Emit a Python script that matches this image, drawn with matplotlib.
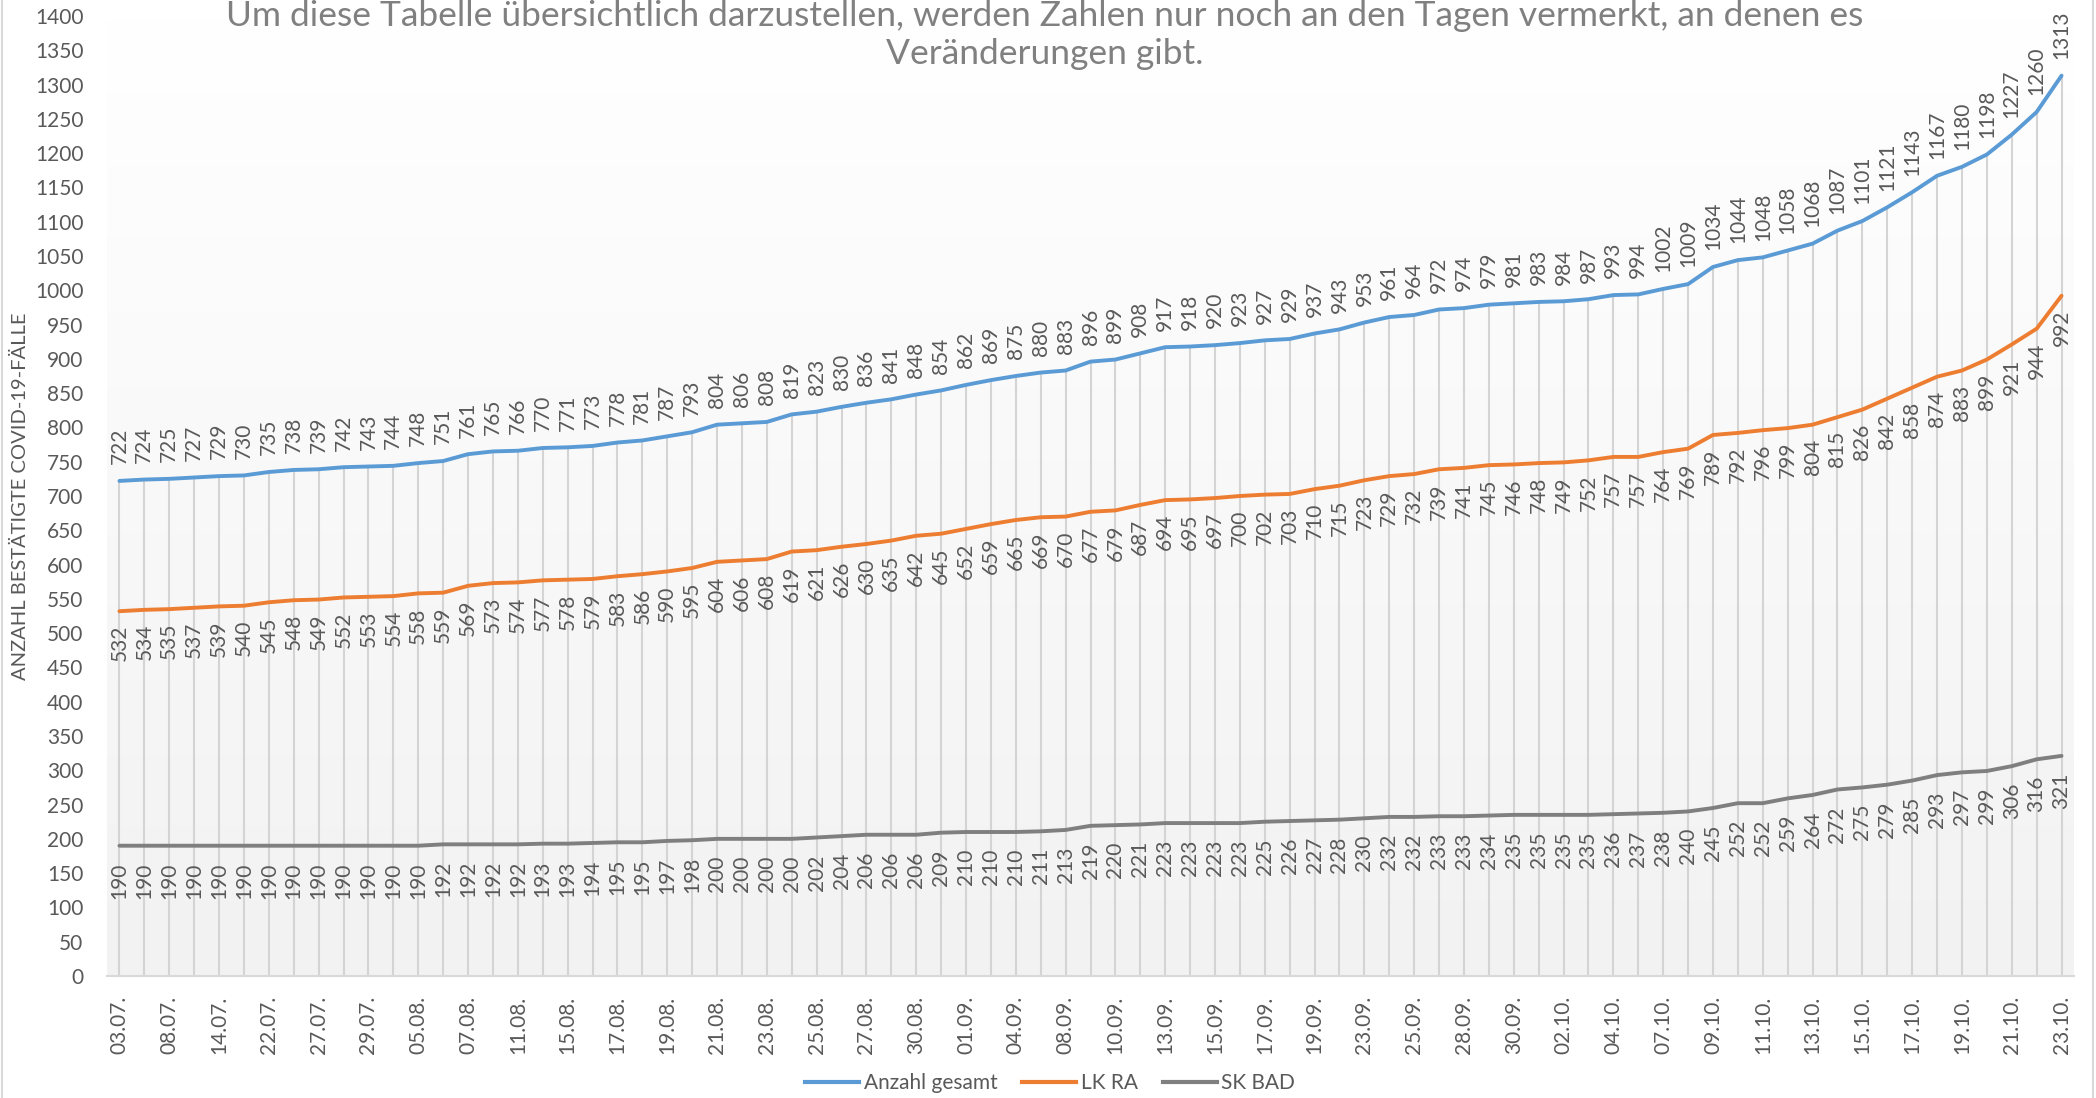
import matplotlib
matplotlib.use("Agg")
import matplotlib.pyplot as plt
import numpy as np
from matplotlib.lines import Line2D

plt.rcParams['font.family'] = ['Lato', 'DejaVu Sans']

gesamt = [722, 724, 725, 727, 729, 730, 735, 738, 739, 742, 743, 744, 748, 751, 761, 765, 766, 770, 771, 773,
          778, 781, 787, 793, 804, 806, 808, 819, 823, 830, 836, 841, 848, 854, 862, 869, 875, 880, 883, 896,
          899, 908, 917, 918, 920, 923, 927, 929, 937, 943, 953, 961, 964, 972, 974, 979, 981, 983, 984, 987,
          993, 994, 1002, 1009, 1034, 1044, 1048, 1058, 1068, 1087, 1101, 1121, 1143, 1167, 1180, 1198, 1227, 1260, 1313]
lk_ra = [532, 534, 535, 537, 539, 540, 545, 548, 549, 552, 553, 554, 558, 559, 569, 573, 574, 577, 578, 579,
         583, 586, 590, 595, 604, 606, 608, 619, 621, 626, 630, 635, 642, 645, 652, 659, 665, 669, 670, 677,
         679, 687, 694, 695, 697, 700, 702, 703, 710, 715, 723, 729, 732, 739, 741, 745, 746, 748, 749, 752,
         757, 757, 764, 769, 789, 792, 796, 799, 804, 815, 826, 842, 858, 874, 883, 899, 921, 944, 992]
sk_bad = [190, 190, 190, 190, 190, 190, 190, 190, 190, 190, 190, 190, 190, 192, 192, 192, 192, 193, 193, 194,
          195, 195, 197, 198, 200, 200, 200, 200, 202, 204, 206, 206, 206, 209, 210, 210, 210, 211, 213, 219,
          220, 221, 223, 223, 223, 223, 225, 226, 227, 228, 230, 232, 232, 233, 233, 234, 235, 235, 235, 235,
          236, 237, 238, 240, 245, 252, 252, 259, 264, 272, 275, 279, 285, 293, 297, 299, 306, 316, 321]
tick_labels = ['03.07.', '08.07.', '14.07.', '22.07.', '27.07.', '29.07.', '05.08.', '07.08.', '11.08.', '15.08.',
               '17.08.', '19.08.', '21.08.', '23.08.', '25.08.', '27.08.', '30.08.', '01.09.', '04.09.', '08.09.',
               '10.09.', '13.09.', '15.09.', '17.09.', '19.09.', '23.09.', '25.09.', '28.09.', '30.09.', '02.10.',
               '04.10.', '07.10.', '09.10.', '11.10.', '13.10.', '15.10.', '17.10.', '19.10.', '21.10.', '23.10.']
series_names = ['Anzahl gesamt', 'LK RA', 'SK BAD']
colors = ['#5b9bd5', '#ed7d31', '#7f7f7f']
title = ("Um diese Tabelle übersichtlich darzustellen, werden Zahlen nur noch an den Tagen vermerkt, an denen es\n"
         "Veränderungen gibt.")

W, H = 2096, 1098
fig = plt.figure(figsize=(W / 100, H / 100), dpi=100)
ax = fig.add_axes([107 / W, 1 - 976 / H, (2074 - 107) / W, (976 - 16) / H])

n = len(gesamt)
x = np.arange(n)

# gradient background
grad = np.linspace(0, 1, 256).reshape(-1, 1)
cmap = matplotlib.colors.LinearSegmentedColormap.from_list('g', ['#f2f2f2', '#ffffff'])
ax.imshow(grad, extent=[0, 1, 0, 1], transform=ax.transAxes, cmap=cmap, aspect='auto',
          origin='lower', zorder=0)

# drop lines
ax.vlines(x, 0, gesamt, colors='#d4d4d4', linewidth=1.5, zorder=1)

txtc = '#595959'
for vals, c, name, off, va in [(gesamt, colors[0], series_names[0], 12, 'bottom'),
                               (lk_ra, colors[1], series_names[1], -10, 'top'),
                               (sk_bad, colors[2], series_names[2], -12, 'top')]:
    ax.plot(x, vals, color=c, linewidth=2.8, zorder=3, solid_capstyle='round', label=name)
    for xi, v in zip(x, vals):
        ax.annotate(str(v), (xi, v), xytext=(0, off), textcoords='offset points', rotation=90,
                    ha='center', va=va, fontsize=15, color=txtc, zorder=4)

ax.set_xlim(-0.5, n - 0.5)
ax.set_ylim(0, 1400)
ax.set_yticks(np.arange(0, 1401, 50))
ax.set_xticks(x[::2])
ax.set_xticklabels(tick_labels, rotation=90)
ax.tick_params(axis='y', length=0, pad=17, labelsize=15, labelcolor=txtc)
ax.tick_params(axis='x', length=0, pad=14, labelsize=15, labelcolor=txtc)
for s in ['left', 'right', 'top']:
    ax.spines[s].set_visible(False)
ax.spines['bottom'].set_color('#d9d9d9')
ax.spines['bottom'].set_linewidth(1.5)
ax.spines['bottom'].set_zorder(2)

ax.set_ylabel('ANZAHL BESTÄTIGTE COVID-19-FÄLLE', fontsize=14.5, color=txtc)
ax.yaxis.set_label_coords(-(107 - 29) / (2074 - 107), 0.5)

fig.text(1045 / W, 1 - 35 / H, title, ha='center', va='center', fontsize=25.5, color='#808080',
         linespacing=1.25, multialignment='center')

handles = [Line2D([0], [0], color=c, linewidth=3) for c in colors]
fig.legend(handles, series_names, loc='center', bbox_to_anchor=(1050 / W, 1 - 1083 / H), ncol=3,
           frameon=False, fontsize=15, labelcolor=txtc, handlelength=2.6, handletextpad=0.2,
           columnspacing=1.2)

# chart border left/right
fig.add_artist(Line2D([1.5 / W, 1.5 / W], [0, 1], color='#d9d9d9', linewidth=1.5, transform=fig.transFigure))
fig.add_artist(Line2D([(W - 3) / W, (W - 3) / W], [0, 1], color='#d9d9d9', linewidth=1.5, transform=fig.transFigure))

fig.savefig('out.png', dpi=100, facecolor='white')
